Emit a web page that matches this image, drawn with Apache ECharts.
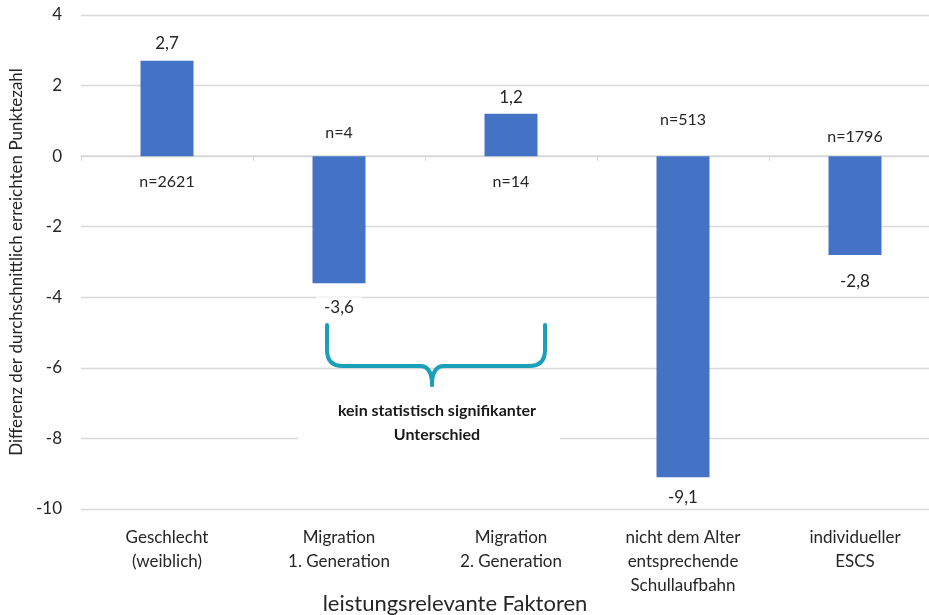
<!DOCTYPE html>
<html>
<head>
<meta charset="utf-8">
<script src="https://cdn.jsdelivr.net/npm/echarts@6/dist/echarts.min.js"></script>
<style>html,body{margin:0;padding:0;background:#fff;}#c{width:929px;height:615px;}</style>
</head>
<body>
<div id="c"></div>
<script>
const categories = ['Geschlecht\n(weiblich)', 'Migration\n1. Generation', 'Migration\n2. Generation', 'nicht dem Alter\nentsprechende\nSchullaufbahn', 'individueller\nESCS'];
const values = [2.7, -3.6, 1.2, -9.1, -2.8];
const nLabels = ['n=2621', 'n=4', 'n=14', 'n=513', 'n=1796'];
const nLabelDist = [16, 13, 16, 26, 9];
const valueLabelDist = [7, 14, 6, 10, 16];
const yTicks = { min: -10, max: 4, interval: 2 };

const FONT = 'Lato, "Open Sans", sans-serif';
const TXT = '#262626';
const BRACE = '#1aa0b8';
const chart = echarts.init(document.getElementById('c'));

const braceStyle = { stroke: BRACE, lineWidth: 4, fill: null, lineCap: 'round' };
const brace = [
  { type: 'line', shape: { x1: 327, y1: 325, x2: 327, y2: 350 } },
  { type: 'bezierCurve', shape: { x1: 327, y1: 350, x2: 343, y2: 366, cpx1: 327, cpy1: 366 } },
  { type: 'line', shape: { x1: 343, y1: 366, x2: 420, y2: 366 } },
  { type: 'bezierCurve', shape: { x1: 420, y1: 366, x2: 432, y2: 385, cpx1: 432, cpy1: 366 } },
  { type: 'bezierCurve', shape: { x1: 432, y1: 385, x2: 444, y2: 366, cpx1: 432, cpy1: 366 } },
  { type: 'line', shape: { x1: 444, y1: 366, x2: 529, y2: 366 } },
  { type: 'bezierCurve', shape: { x1: 529, y1: 366, x2: 545, y2: 350, cpx1: 545, cpy1: 366 } },
  { type: 'line', shape: { x1: 545, y1: 350, x2: 545, y2: 325 } }
].map(e => Object.assign(e, { z: 10, style: braceStyle }));

chart.setOption({
  animation: false,
  textStyle: { fontFamily: FONT },
  grid: { left: 81, top: 15, width: 860, bottom: 106, containLabel: false, outerBoundsMode: 'none' },
  xAxis: [
    {
      type: 'category', data: categories, position: 'bottom',
      axisLine: { show: false, onZero: false }, axisTick: { show: false },
      axisLabel: { color: TXT, fontSize: 17, lineHeight: 24, margin: 17, interval: 0, fontFamily: FONT }
    },
    {
      type: 'category', data: categories, position: 'bottom',
      axisLine: { show: true, onZero: true, lineStyle: { color: '#d9d9d9', width: 1.5 } },
      axisTick: { show: true, inside: false, length: 5, lineStyle: { color: '#d9d9d9' } },
      axisLabel: { show: false }
    }
  ],
  yAxis: {
    type: 'value', min: yTicks.min, max: yTicks.max, interval: yTicks.interval,
    name: 'Differenz der durchschnittlich erreichten Punktezahl',
    nameLocation: 'middle', nameGap: 51, nameRotate: 90,
    nameTextStyle: { color: TXT, fontSize: 17, fontFamily: FONT },
    axisLine: { show: false }, axisTick: { show: false },
    axisLabel: { color: TXT, fontSize: 17, margin: 19, fontFamily: FONT },
    splitLine: { lineStyle: { color: '#d9d9d9', width: 1.3 } }
  },
  series: [
    {
      type: 'bar', xAxisIndex: 0, barWidth: 53,
      itemStyle: { color: '#4472c4' },
      data: values.map((v, i) => ({
        value: v,
        label: {
          show: true, position: v >= 0 ? 'top' : 'bottom', distance: valueLabelDist[i],
          formatter: p => String(p.value).replace('.', ','),
          color: TXT, fontSize: 17, fontFamily: FONT,
          backgroundColor: '#fff', padding: [2, 8]
        }
      })),
      z: 3
    },
    {
      type: 'scatter', xAxisIndex: 0, symbolSize: 0, silent: true,
      itemStyle: { opacity: 1 },
      data: values.map((v, i) => ({
        value: 0,
        label: {
          show: true, position: v >= 0 ? 'bottom' : 'top', distance: nLabelDist[i],
          formatter: nLabels[i], color: TXT, fontSize: 16, fontFamily: FONT,
          backgroundColor: '#fff', padding: [2, 8]
        }
      })),
      z: 4
    }
  ],
  graphic: brace.concat([
    {
      type: 'rect', z: 9,
      shape: { x: 298, y: 395, width: 262, height: 55 },
      style: { fill: '#fff' }
    },
    {
      type: 'text', z: 11, x: 437, y: 423,
      style: {
        text: 'kein statistisch signifikanter\nUnterschied', align: 'center', verticalAlign: 'middle',
        font: 'bold 16px ' + FONT, fill: '#1a1a1a', lineHeight: 24
      }
    },
    {
      type: 'text', z: 11, x: 455, y: 604,
      style: { text: 'leistungsrelevante Faktoren', align: 'center', verticalAlign: 'middle', font: '22px ' + FONT, fill: TXT }
    }
  ])
});
</script>
</body>
</html>
